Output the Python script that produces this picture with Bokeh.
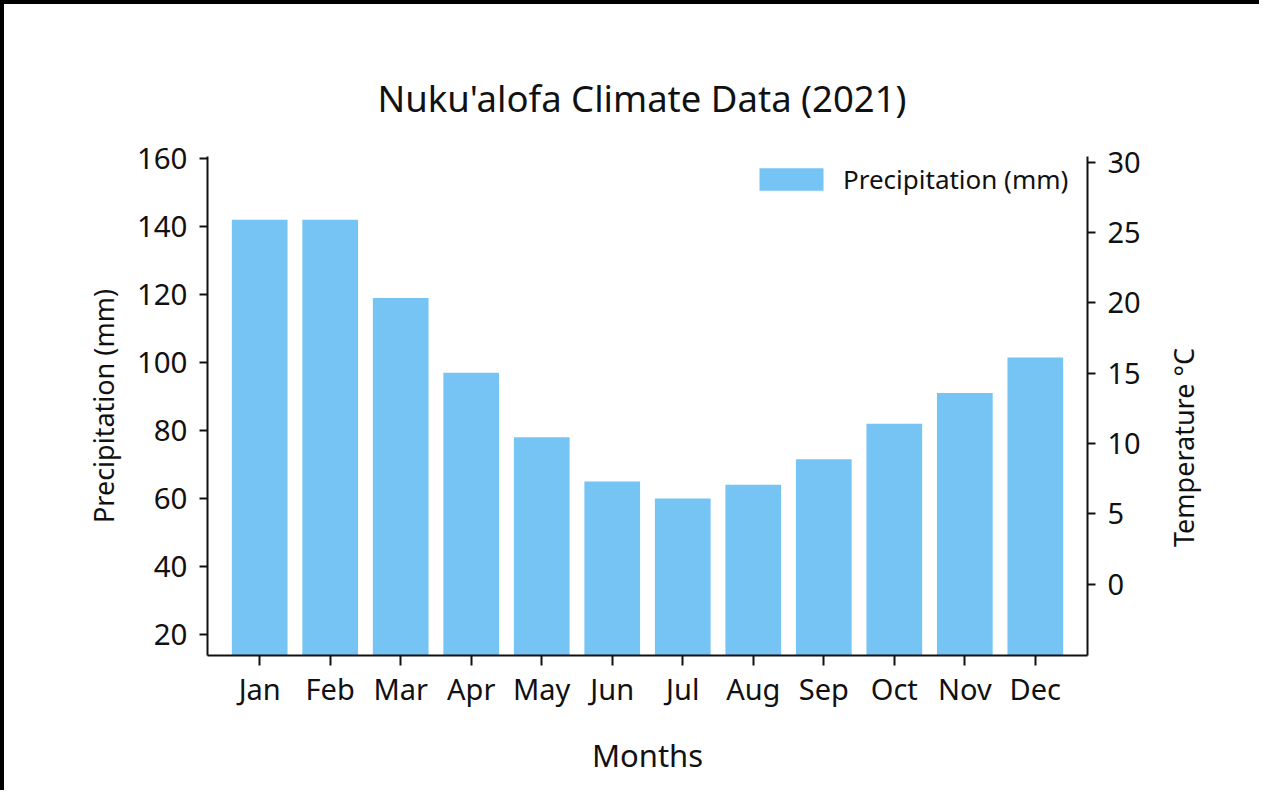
import math
from bokeh.plotting import figure
from bokeh.models import (FactorRange, Range1d, LinearAxis, FixedTicker, ColumnDataSource,
                          Legend, LegendItem, Label)
from bokeh.embed import file_html
from bokeh.resources import INLINE

months = ["Jan", "Feb", "Mar", "Apr", "May", "Jun", "Jul", "Aug", "Sep", "Oct", "Nov", "Dec"]
precip_mm = [142, 142, 119, 97, 78, 65, 60, 64, 71.5, 82, 91, 101.5]
precip_ticks = [20, 40, 60, 80, 100, 120, 140, 160]
temp_ticks = [0, 5, 10, 15, 20, 25, 30]

FONT = "Noto Sans"
BAR = "#75C4F4"

src = ColumnDataSource(dict(month=months, precip=precip_mm))

p = figure(width=1259, height=790, output_backend="svg", toolbar_location=None,
           x_range=FactorRange(*months, range_padding=0.24, range_padding_units="absolute"),
           y_range=Range1d(13.8, 160.6),
           min_border_left=203, min_border_right=176, min_border_top=152, min_border_bottom=139)
p.styles = {"border-top": "4px solid black", "border-left": "4px solid black"}

p.extra_y_ranges = {"temp": Range1d(-5.06, 30.4)}

r = p.vbar(x="month", top="precip", bottom=0, width=0.79, source=src,
           fill_color=BAR, line_color=None)

p.title.text = "Nuku'alofa Climate Data (2021)"
p.title.align = "left"
p.title.offset = 170
p.title.text_font = FONT
p.title.text_font_size = "36.5px"
p.title.text_font_style = "normal"
p.title.text_color = "#111111"
p.title.standoff = 67

p.outline_line_color = None
p.grid.visible = False
p.background_fill_color = "white"
p.border_fill_color = "white"

def style_axis(ax, size="29px"):
    ax.axis_line_color = "#111111"
    ax.axis_line_width = 2
    ax.major_tick_line_color = "#111111"
    ax.major_tick_line_width = 2
    ax.major_tick_in = 0
    ax.major_tick_out = 8
    ax.minor_tick_line_color = None
    ax.major_label_text_font = FONT
    ax.major_label_text_font_size = size
    ax.major_label_text_color = "#111111"
    ax.axis_label_text_font = FONT
    ax.axis_label_text_font_style = "normal"
    ax.axis_label_text_color = "#111111"

# left axis
ly = p.yaxis[0]
ly.ticker = FixedTicker(ticks=precip_ticks)
ly.axis_label = "Precipitation (mm)"
style_axis(ly, "29.5px")
ly.axis_label_text_font_size = "27px"
ly.major_label_standoff = 12
ly.axis_label_standoff = 12

# bottom axis
bx = p.xaxis[0]
bx.axis_label = "Months"
style_axis(bx)
bx.major_tick_out = 10
bx.axis_label_text_font_size = "31px"
bx.major_label_standoff = 3
bx.axis_label_standoff = 23

# right axis
ry = LinearAxis(y_range_name="temp", ticker=FixedTicker(ticks=temp_ticks))
style_axis(ry)
ry.major_label_standoff = 12
p.add_layout(ry, "right")

# right axis title (reads bottom-to-top, like the left one), in the right panel
temp_label = Label(text="Temperature °C", x=40, y=208, x_units="screen", y_units="screen",
                   angle=math.pi / 2, text_align="center", text_baseline="middle",
                   text_font=FONT, text_font_size="27px", text_color="#111111")
p.add_layout(temp_label, "right")

legend = Legend(items=[LegendItem(label="Precipitation (mm)", renderers=[r])],
                location="top_right")
legend.label_text_font = FONT
legend.label_text_font_size = "26px"
legend.label_text_color = "#111111"
legend.glyph_width = 80
legend.glyph_height = 28
legend.label_standoff = 12
legend.label_width = 239
legend.border_line_color = None
legend.background_fill_alpha = 0
legend.margin = 5
legend.padding = 12
p.add_layout(legend)

open("out.html", "w").write(file_html(p, INLINE))
